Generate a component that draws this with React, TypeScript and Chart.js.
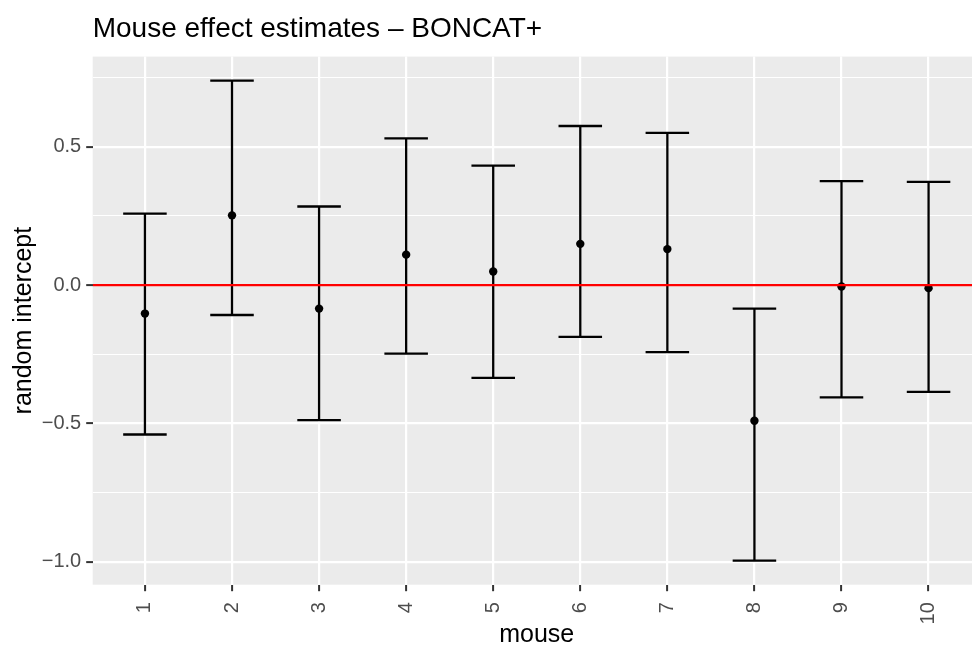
import React, { useEffect, useRef } from 'react';
import { Chart, registerables } from 'chart.js';

Chart.register(...registerables);

// ---- data ----
const MICE = ['1', '2', '3', '4', '5', '6', '7', '8', '9', '10'];
const ESTIMATE = [-0.103, 0.252, -0.085, 0.110, 0.049, 0.149, 0.130, -0.490, -0.005, -0.011];
const LOWER = [-0.540, -0.108, -0.488, -0.248, -0.335, -0.187, -0.242, -0.996, -0.406, -0.386];
const UPPER = [0.258, 0.739, 0.284, 0.530, 0.432, 0.575, 0.550, -0.085, 0.376, 0.373];
const Y_MAJOR_TICKS = [-1.0, -0.5, 0.0, 0.5];
const Y_MINOR_TICKS = [-0.75, -0.25, 0.25, 0.75];
const REFERENCE_LINE = 0;

const TITLE = 'Mouse effect estimates \u2013 BONCAT+';
const X_TITLE = 'mouse';
const Y_TITLE = 'random intercept';

const FONT = "'Liberation Sans', Arial, Helvetica, sans-serif";

// The original plot panel runs slightly past the right edge of the 972px picture,
// so the canvas is a little wider and clipped by its container.
const CANVAS_W = 985;
const CANVAS_H = 648;

export default function App() {
  const ref = useRef<HTMLCanvasElement>(null);

  useEffect(() => {
    const canvas = ref.current;
    if (!canvas) return;

    const positions = MICE.map((_, i) => i + 1);
    const xMin = 1 - 0.6;
    const xMax = MICE.length + 0.6;
    const dataMin = Math.min(...LOWER);
    const dataMax = Math.max(...UPPER);
    const span = dataMax - dataMin;
    const yMin = dataMin - span * 0.05;
    const yMax = dataMax + span * 0.05;
    const CAP = 0.25;

    const errorBars: { x: number; y: number | null }[] = [];
    positions.forEach((x, i) => {
      errorBars.push({ x: x - CAP, y: UPPER[i] }, { x: x + CAP, y: UPPER[i] }, { x, y: null });
      errorBars.push({ x, y: UPPER[i] }, { x, y: LOWER[i] }, { x, y: null });
      errorBars.push({ x: x - CAP, y: LOWER[i] }, { x: x + CAP, y: LOWER[i] }, { x, y: null });
    });

    const allY = [...Y_MAJOR_TICKS, ...Y_MINOR_TICKS].sort((a, b) => a - b);
    const isMajor = (v: number) => Y_MAJOR_TICKS.some((m) => Math.abs(m - v) < 1e-9);

    const background = {
      id: 'panelBackground',
      beforeDraw(chart: any) {
        const { ctx, chartArea, width, height } = chart;
        ctx.save();
        ctx.fillStyle = '#FFFFFF';
        ctx.fillRect(0, 0, width, height);
        ctx.fillStyle = '#EBEBEB';
        ctx.fillRect(chartArea.left, chartArea.top, chartArea.right - chartArea.left, chartArea.bottom - chartArea.top);
        ctx.restore();
      },
    };

    const chart = new Chart(canvas, {
      type: 'scatter',
      data: {
        datasets: [
          {
            type: 'line',
            data: [
              { x: xMin, y: REFERENCE_LINE },
              { x: xMax, y: REFERENCE_LINE },
            ],
            borderColor: '#FF0000',
            borderWidth: 2.3,
            pointRadius: 0,
            borderCapStyle: 'butt',
          } as any,
          {
            type: 'scatter',
            data: positions.map((x, i) => ({ x, y: ESTIMATE[i] })),
            pointRadius: 4.2,
            pointBackgroundColor: '#000000',
            pointBorderWidth: 0,
            pointBorderColor: '#000000',
          } as any,
          {
            type: 'line',
            data: errorBars,
            borderColor: '#000000',
            borderWidth: 2.3,
            pointRadius: 0,
            spanGaps: false,
            borderCapStyle: 'butt',
            borderJoinStyle: 'miter',
            tension: 0,
          } as any,
        ],
      },
      options: {
        responsive: false,
        animation: false,
        devicePixelRatio: 1,
        events: [],
        layout: { padding: 0 },
        plugins: {
          legend: { display: false },
          tooltip: { enabled: false },
          title: {
            display: true,
            text: TITLE,
            align: 'start',
            fullSize: false,
            color: '#000000',
            font: { family: FONT, size: 28, weight: 'normal', lineHeight: 1.2 },
            padding: { top: 12, bottom: 11 },
          },
        },
        scales: {
          x: {
            type: 'linear',
            min: xMin,
            max: xMax,
            afterBuildTicks: (scale: any) => {
              scale.ticks = positions.map((v) => ({ value: v }));
            },
            afterFit: (scale: any) => {
              scale.height = 63.3;
              scale.paddingLeft = 0;
              scale.paddingRight = 0;
            },
            border: { display: false },
            grid: {
              color: '#FFFFFF',
              lineWidth: 2.2,
              drawTicks: true,
              tickLength: 6.5,
              tickColor: '#333333',
              tickWidth: 2,
            },
            ticks: {
              autoSkip: false,
              maxRotation: 90,
              minRotation: 90,
              padding: 11,
              color: '#4D4D4D',
              font: { family: FONT, size: 20, lineHeight: 0.75 },
              callback: (v: any) => MICE[Math.round(Number(v)) - 1] ?? '',
            },
            title: {
              display: true,
              text: X_TITLE,
              color: '#000000',
              font: { family: FONT, size: 25, lineHeight: 1 },
              padding: { top: 0, bottom: 0 },
            },
          },
          y: {
            type: 'linear',
            min: yMin,
            max: yMax,
            afterBuildTicks: (scale: any) => {
              scale.ticks = allY.map((v) => ({ value: v }));
            },
            afterFit: (scale: any) => {
              scale.width = 92.7;
              scale.paddingTop = 0;
              scale.paddingBottom = 0;
            },
            border: { display: false },
            grid: {
              color: '#FFFFFF',
              lineWidth: (ctx: any) => (ctx.tick && isMajor(ctx.tick.value) ? 2.2 : 1.1),
              drawTicks: true,
              tickLength: 6.5,
              tickColor: (ctx: any) => (ctx.tick && isMajor(ctx.tick.value) ? '#333333' : 'rgba(0,0,0,0)'),
              tickWidth: 2,
            },
            ticks: {
              autoSkip: false,
              padding: 5,
              color: '#4D4D4D',
              font: { family: FONT, size: 20 },
              callback: (v: any) => {
                const n = Number(v);
                if (!isMajor(n)) return '';
                return n.toFixed(1).replace('-', '\u2212');
              },
            },
            title: {
              display: true,
              text: Y_TITLE,
              color: '#000000',
              font: { family: FONT, size: 25, lineHeight: 1.2 },
              padding: { top: 9, bottom: 0 },
            },
          },
        },
      },
      plugins: [background],
    } as any);

    return () => chart.destroy();
  }, []);

  return (
    <div
      style={{
        position: 'fixed',
        left: 0,
        top: 0,
        width: 972,
        height: 648,
        overflow: 'hidden',
        background: '#FFFFFF',
      }}
    >
      <canvas
        ref={ref}
        width={CANVAS_W}
        height={CANVAS_H}
        style={{ display: 'block', width: CANVAS_W, height: CANVAS_H }}
      />
    </div>
  );
}
